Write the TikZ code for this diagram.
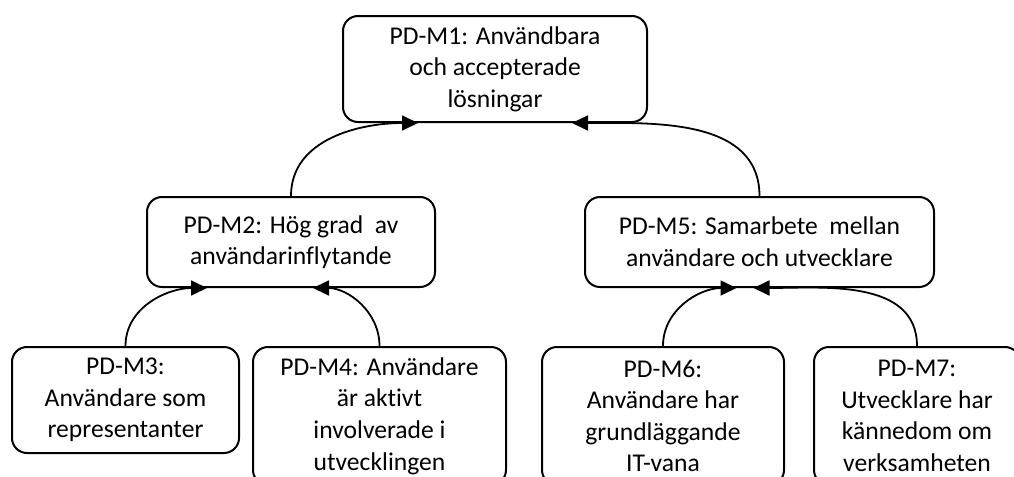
\documentclass[tikz,border=0pt]{standalone}
\usepackage{fontspec}
\setmainfont{Carlito}[Ligatures={NoCommon}]
\usetikzlibrary{arrows.meta,calc}
\begin{document}
\begin{tikzpicture}[x=0.5pt,y=-0.5pt,
  box/.style={draw,line width=1pt,rounded corners=7.5pt,align=center,inner sep=0pt,
    font=\fontsize{12.8}{15.8}\selectfont},
  arr/.style={line width=0.9pt,-{Triangle[length=8pt,width=7.5pt]}}]
\useasboundingbox (0,0) rectangle (1014,477);
\clip (0,0) rectangle (1014,477);
\node[box,minimum width=152pt,minimum height=53pt] (m1) at (495,69) {PD-M1: Användbara\\och accepterade\\lösningar};
\node[box,minimum width=144pt,minimum height=45pt] (m2) at (291,242) {PD-M2: Hög grad\ \ av\\användarinflytande};
\node[box,minimum width=174.5pt,minimum height=45pt] (m5) at (759.5,242) {PD-M5: Samarbete\ \ mellan\\användare och utvecklare};
\node[box,minimum width=113.5pt,minimum height=53pt] (m3) at (125.5,400) {PD-M3:\\Användare som\\representanter};
\node[box,minimum width=126.5pt,minimum height=69pt] (m4) at (379.5,416) {PD-M4: Användare\\är aktivt\\involverade i\\utvecklingen};
\node[box,minimum width=121pt,minimum height=69pt] (m6) at (663,416) {PD-M6:\\Användare har\\grundläggande\\IT-vana};
\node[box,minimum width=103pt,minimum height=69pt] (m7) at (917,416) {PD-M7:\\Utvecklare har\\kännedom om\\verksamheten};
\draw[arr] (m2.north) to[out=90,in=180] ($(m1.south)+(-77,0)$);
\draw[arr] (m5.north) to[out=90,in=0] ($(m1.south)+(77,0)$);
\draw[arr] (m3.north) to[out=90,in=180] ($(m2.south)+(-84,0)$);
\draw[arr] (m4.north) to[out=90,in=0] ($(m2.south)+(22,0)$);
\draw[arr] (m6.north) to[out=90,in=180] ($(m5.south)+(-23,0)$);
\draw[arr] (m7.north) to[out=90,in=0] ($(m5.south)+(-6,0)$);
\end{tikzpicture}
\end{document}
